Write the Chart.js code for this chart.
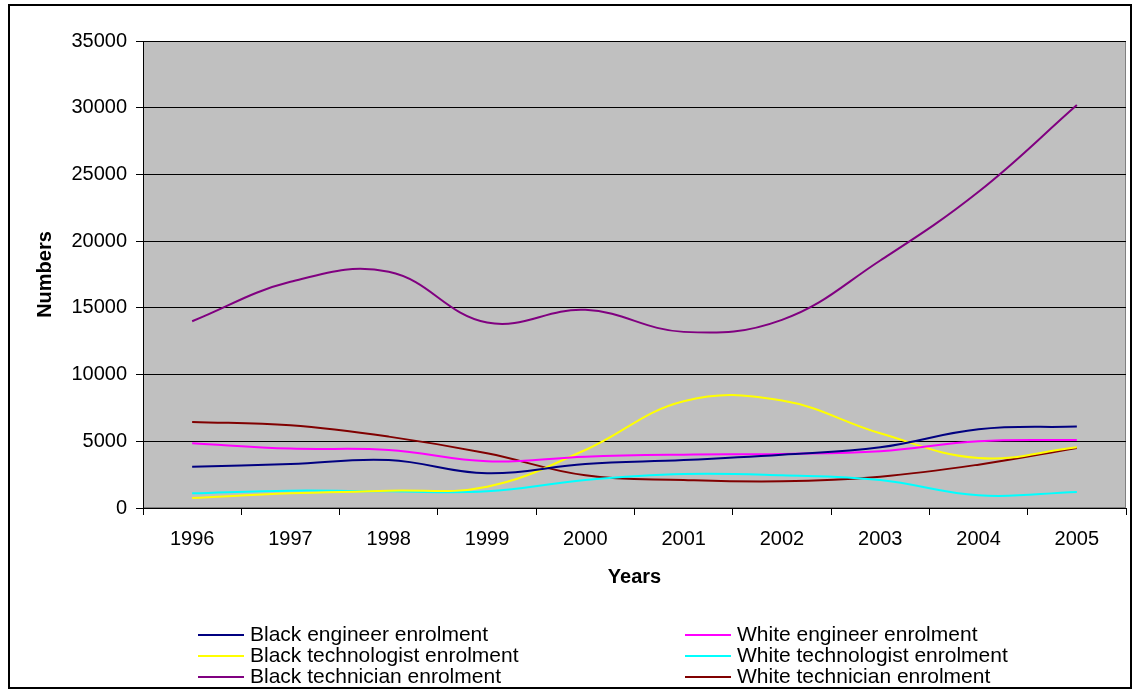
<!DOCTYPE html>
<html>
<head>
<meta charset="utf-8">
<script src="https://cdn.jsdelivr.net/npm/chart.js@4/dist/chart.umd.min.js"></script>
<style>
  body { margin: 0; background: #fff; }
  #wrap { width: 1135px; height: 690px; }
</style>
</head>
<body>
<div id="wrap"><canvas id="myChart" width="1135" height="690"></canvas></div>
<script>
var years = ["1996", "1997", "1998", "1999", "2000", "2001", "2002", "2003", "2004", "2005"];

var blackEngineer     = [3100, 3300, 3600, 2600, 3300, 3600, 4000, 4550, 5900, 6100];
var whiteEngineer     = [4850, 4450, 4350, 3500, 3850, 4000, 4050, 4250, 5000, 5100];
var blackTechnologist = [750, 1100, 1300, 1600, 4350, 8000, 8050, 5600, 3750, 4550];
var whiteTechnologist = [1100, 1300, 1250, 1250, 2100, 2550, 2450, 2100, 950, 1200];
var blackTechnician   = [14000, 16950, 17700, 13900, 14850, 13200, 14100, 18550, 23700, 30200];
var whiteTechnician   = [6450, 6200, 5350, 4100, 2450, 2100, 2000, 2350, 3250, 4500];

var seriesNames = [
  "Black engineer enrolment", "White engineer enrolment",
  "Black technologist enrolment", "White technologist enrolment",
  "Black technician enrolment", "White technician enrolment"
];
var seriesData = [blackEngineer, whiteEngineer, blackTechnologist, whiteTechnologist, blackTechnician, whiteTechnician];
var seriesColors = ["#000080", "#FF00FF", "#FFFF00", "#00FFFF", "#800080", "#800000"];

var yTicks = [0, 5000, 10000, 15000, 20000, 25000, 30000, 35000];

Chart.defaults.font.family = "'Liberation Sans', Arial, sans-serif";
Chart.defaults.color = "#000";

// grey plot area + outer frame
var frame = {
  id: "frame",
  beforeDraw: function(chart) {
    var ctx = chart.ctx, a = chart.chartArea;
    ctx.save();
    ctx.fillStyle = "#fff";
    ctx.fillRect(0, 0, chart.width, chart.height);
    ctx.fillStyle = "#C0C0C0";
    ctx.fillRect(a.left, a.top, a.right - a.left, a.bottom - a.top);
    ctx.strokeStyle = "#808080";
    ctx.lineWidth = 1;
    ctx.strokeRect(a.left + 0.5, a.top + 0.5, a.right - a.left - 1, a.bottom - a.top - 1);
    ctx.restore();
  },
  afterDraw: function(chart) {
    var ctx = chart.ctx;
    ctx.save();
    ctx.strokeStyle = "#000";
    ctx.lineWidth = 2;
    ctx.strokeRect(9, 5, 1122, 683);
    ctx.restore();
  }
};

// two-column legend under the axis
var legendBox = {
  id: "legendBox",
  afterDraw: function(chart) {
    var ctx = chart.ctx;
    var colX = [198, 685];
    ctx.save();
    ctx.font = "21px 'Liberation Sans', Arial, sans-serif";
    ctx.textBaseline = "middle";
    ctx.textAlign = "left";
    chart.data.datasets.forEach(function(ds, i) {
      var x = colX[i % 2];
      var y = 635 + Math.floor(i / 2) * 21;
      ctx.strokeStyle = ds.borderColor;
      ctx.lineWidth = 2;
      ctx.beginPath();
      ctx.moveTo(x, y);
      ctx.lineTo(x + 46, y);
      ctx.stroke();
      ctx.fillStyle = "#000";
      ctx.fillText(ds.label, x + 52, y);
    });
    ctx.restore();
  }
};

new Chart("myChart", {
  type: "line",
  data: {
    labels: years,
    datasets: seriesNames.map(function(name, i) {
      return {
        label: name,
        data: seriesData[i],
        borderColor: seriesColors[i],
        backgroundColor: seriesColors[i],
        borderWidth: 2,
        pointRadius: 0,
        tension: 0.4,
        fill: false
      };
    })
  },
  options: {
    responsive: false,
    animation: false,
    layout: {
      autoPadding: false,
      padding: { left: 10, top: 41, right: 9, bottom: 90 }
    },
    plugins: {
      legend: { display: false },
      tooltip: { enabled: false }
    },
    scales: {
      x: {
        offset: true,
        grid: {
          offset: true,
          drawOnChartArea: false,
          drawTicks: true,
          tickLength: 7,
          color: "#000"
        },
        border: { color: "#000", width: 1 },
        ticks: { font: { size: 20 }, padding: 12, maxRotation: 0 },
        title: {
          display: true,
          text: "Years",
          font: { size: 20, weight: "bold" },
          padding: { top: 0, bottom: 11 }
        },
        afterFit: function(scale) { scale.height = 92; }
      },
      y: {
        min: 0,
        max: 35000,
        afterBuildTicks: function(scale) {
          scale.ticks = yTicks.map(function(v) { return { value: v }; });
        },
        grid: { color: "#000", tickLength: 7, drawTicks: true },
        border: { color: "#000", width: 1 },
        ticks: {
          font: { size: 20 },
          padding: 9,
          callback: function(v) { return String(v); }
        },
        title: {
          display: true,
          text: "Numbers",
          font: { size: 20, weight: "bold" },
          padding: { top: 23, bottom: 0 }
        },
        afterFit: function(scale) { scale.width = 133; }
      }
    }
  },
  plugins: [frame, legendBox]
});
</script>
</body>
</html>
